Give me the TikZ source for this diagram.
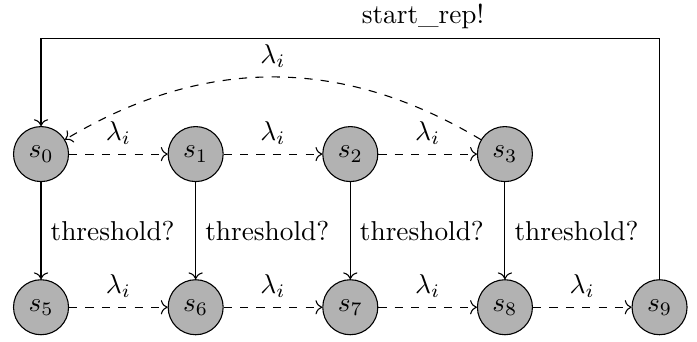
\documentclass[tikz,border=0pt]{standalone}
\usepackage{amsmath, amssymb}
\usepackage{tikz}
\usetikzlibrary{arrows.meta,positioning,calc}

\begin{document}
\begin{tikzpicture}[
        state/.style={draw, circle, fill=gray!60, minimum size=0.708cm, inner sep=0pt},
        arrow/.style={->},
        rate/.style={->, dashed}
    ]
    \useasboundingbox (0,0) rectangle (8.97,4.39);
    % Estados
    \node[state] (s0) at (0.528,2.407) {$s_0$};
    \node[state, right=1.268cm of s0] (s1) {$s_1$};
    \node[state, right=1.268cm of s1] (s2) {$s_2$};
    \node[state, right=1.268cm of s2] (s3) {$s_3$};
    \node[state, below=1.249cm of s0] (s5) {$s_5$};
    \node[state, below=1.249cm of s1] (s6) {$s_6$};
    \node[state, below=1.249cm of s2] (s7) {$s_7$};
    \node[state, below=1.249cm of s3] (s8) {$s_8$};
    \node[state, right=1.268cm of s8] (s9) {$s_9$};
    \coordinate (top) at (5.444,3.90);
    % Transicoes
    \draw[rate] (s0) -- node[above]{$\lambda_i$} (s1);
    \draw[rate] (s1) -- node[above]{$\lambda_i$} (s2);
    \draw[rate] (s2) -- node[above]{$\lambda_i$} (s3);
    \draw[rate] (s3) to[bend right=31] node[above]{$\lambda_i$} (s0);
    \draw[rate] (s5) -- node[above]{$\lambda_i$} (s6);
    \draw[rate] (s6) -- node[above]{$\lambda_i$} (s7);
    \draw[rate] (s7) -- node[above]{$\lambda_i$} (s8);
    \draw[rate] (s8) -- node[above]{$\lambda_i$} (s9);
    \draw[arrow] (s0) -- node[right]{threshold?} (s5);
    \draw[arrow] (s1) -- node[right]{threshold?} (s6);
    \draw[arrow] (s2) -- node[right]{threshold?} (s7);
    \draw[arrow] (s3) -- node[right]{threshold?} (s8);
    \draw[arrow] (s9) |- (top) node[above]{start\_rep!} -| (s0);
\end{tikzpicture}
\end{document}
